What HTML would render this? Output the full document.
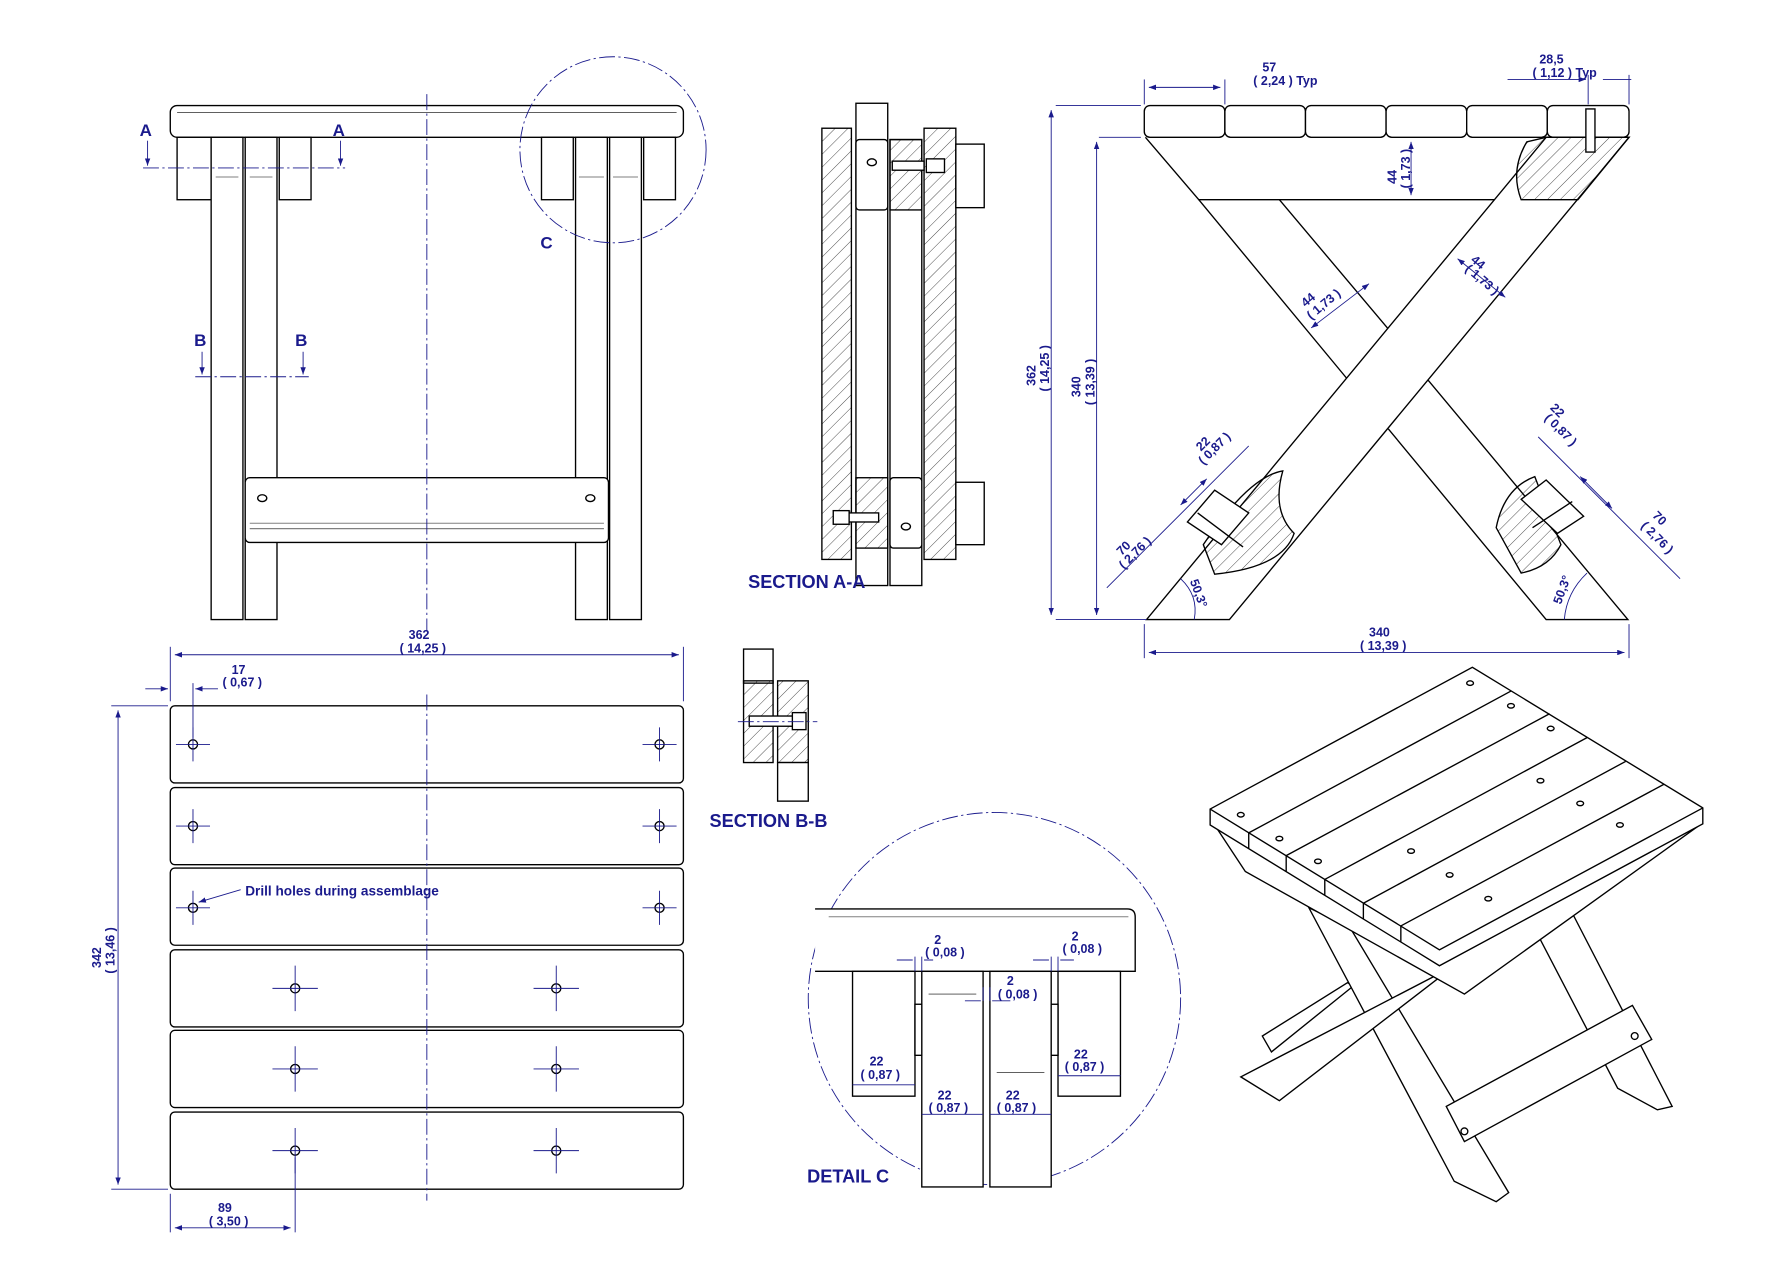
<!DOCTYPE html>
<html><head><meta charset="utf-8"><style>
html,body{margin:0;padding:0;background:#fff}
svg{display:block}
text{font-family:"Liberation Sans",sans-serif;font-weight:bold;fill:#1a1a8c}
.d{stroke:#1a1a8c;stroke-width:0.8;fill:none}
.l{stroke:#000;stroke-width:1.2;fill:#fff}
.n{stroke:#000;stroke-width:1.2;fill:none}
.t{stroke:#000;stroke-width:0.5;fill:none}
.c{stroke:#1a1a8c;stroke-width:0.8;fill:none;stroke-dasharray:14 3 2 3}
.h{stroke:#000;stroke-width:1.2;fill:url(#hat)}
</style></head><body>
<svg width="1780" height="1280" viewBox="0 0 1568 1128" preserveAspectRatio="none" xmlns="http://www.w3.org/2000/svg">
<defs>
<pattern id="hat" width="8" height="8" patternUnits="userSpaceOnUse" patternTransform="rotate(45)">
<line x1="0" y1="0" x2="0" y2="8" stroke="#000" stroke-width="0.6"/></pattern>
<marker id="a" markerWidth="8" markerHeight="6" refX="8" refY="3" orient="auto"><path d="M0,0L8,3L0,6z" fill="#1a1a8c"/></marker>
<marker id="b" markerWidth="8" markerHeight="6" refX="0" refY="3" orient="auto"><path d="M8,0L0,3L8,6z" fill="#1a1a8c"/></marker>
</defs>

<!-- FRONT VIEW -->
<rect class="l" x="150" y="93" width="452" height="28" rx="6"/>
<line class="t" x1="156" y1="99" x2="596" y2="99"/>
<g class="l">
<rect x="156" y="121" width="30" height="55"/><rect x="246" y="121" width="28" height="55"/>
<rect x="186" y="121" width="28" height="425"/><rect x="216" y="121" width="28" height="425"/>
<rect x="477" y="121" width="28" height="55"/><rect x="567" y="121" width="28" height="55"/>
<rect x="507" y="121" width="28" height="425"/><rect x="537" y="121" width="28" height="425"/>
<rect x="216" y="421" width="320" height="57" rx="4"/>
</g>
<line class="t" x1="220" y1="461" x2="532" y2="461"/><line class="t" x1="220" y1="466" x2="532" y2="466"/>
<ellipse class="n" cx="231" cy="439" rx="4" ry="3"/><ellipse class="n" cx="520" cy="439" rx="4" ry="3"/>
<line class="t" x1="190" y1="156" x2="210" y2="156"/><line class="t" x1="220" y1="156" x2="240" y2="156"/>
<line class="t" x1="510" y1="156" x2="532" y2="156"/><line class="t" x1="540" y1="156" x2="562" y2="156"/>
<line class="c" x1="376" y1="83" x2="376" y2="556"/>
<circle class="c" cx="540" cy="132" r="82" stroke-dasharray="10 3 2 3"/>
<text x="476" y="219" font-size="15">C</text>
<line class="c" x1="126" y1="148" x2="304" y2="148"/>
<line class="d" x1="130" y1="124" x2="130" y2="146" marker-end="url(#a)"/><line class="d" x1="300" y1="124" x2="300" y2="146" marker-end="url(#a)"/>
<text x="123" y="120" font-size="15">A</text><text x="293" y="120" font-size="15">A</text>
<line class="c" x1="172" y1="332" x2="272" y2="332"/>
<line class="d" x1="178" y1="310" x2="178" y2="330" marker-end="url(#a)"/><line class="d" x1="267" y1="310" x2="267" y2="330" marker-end="url(#a)"/>
<text x="171" y="305" font-size="15">B</text><text x="260" y="305" font-size="15">B</text>

<!-- SECTION A-A -->
<rect class="h" x="724" y="113" width="26" height="380"/>
<rect class="l" x="754" y="91" width="28" height="425"/>
<rect class="l" x="784" y="123" width="28" height="393"/>
<rect class="h" x="814" y="113" width="28" height="380"/>
<rect class="l" x="842" y="127" width="25" height="56"/><rect class="l" x="842" y="425" width="25" height="55"/>
<rect class="l" x="754" y="123" width="28" height="62" rx="3"/><rect class="h" x="784" y="123" width="28" height="62"/>
<rect class="h" x="754" y="421" width="28" height="62"/><rect class="l" x="784" y="421" width="28" height="62" rx="3"/>
<rect class="l" x="786" y="142" width="28" height="8"/><rect class="l" x="816" y="140" width="16" height="12"/>
<rect class="l" x="744" y="452" width="30" height="8"/><rect class="l" x="734" y="450" width="14" height="12"/>
<ellipse class="n" cx="768" cy="143" rx="4" ry="3"/><ellipse class="n" cx="798" cy="464" rx="4" ry="3"/>
<text x="659" y="518" font-size="16">SECTION A-A</text>

<!-- SECTION B-B -->
<rect class="l" x="655" y="572" width="26" height="30"/>
<rect class="h" x="655" y="600" width="26" height="72"/>
<rect class="h" x="685" y="600" width="27" height="72"/>
<rect class="l" x="685" y="672" width="27" height="34"/>
<rect class="l" x="660" y="631" width="45" height="9"/><rect class="l" x="698" y="628" width="12" height="15"/>
<line class="c" x1="650" y1="636" x2="720" y2="636"/>
<text x="625" y="729" font-size="16">SECTION B-B</text>

<!-- SIDE VIEW -->
<g class="l">
<rect x="1008" y="93" width="71" height="28" rx="5"/><rect x="1079" y="93" width="71" height="28" rx="5"/>
<rect x="1150" y="93" width="71" height="28" rx="5"/><rect x="1221" y="93" width="71" height="28" rx="5"/>
<rect x="1292" y="93" width="71" height="28" rx="5"/><rect x="1363" y="93" width="72" height="28" rx="5"/>
</g>
<path class="n" d="M1009,121 L1056,176 L1389,176"/>
<path class="n" d="M1056,176 L1186,333 M1258,335 L1434,546 L1362,546 L1223,378 M1223,290 L1127,176"/>
<path class="l" d="M1435,121 L1083,546 L1010,546 L1362,121 Z"/>
<path class="h" d="M1362,121 L1435,121 L1390,176 L1340,176 Q1330,150 1345,125 Z"/>
<rect class="l" x="1397" y="96" width="8" height="38"/>
<path class="h" d="M1060,480 Q1100,420 1130,415 Q1120,450 1140,470 Q1130,500 1070,506 Z"/>
<path class="l" d="M1046,460 L1070,432 L1100,452 L1076,480 Z"/><line class="n" x1="1055" y1="452" x2="1095" y2="482"/>
<path class="h" d="M1318,465 Q1325,430 1352,420 L1375,480 Q1365,500 1340,505 Z"/>
<path class="l" d="M1340,440 L1362,423 L1395,455 L1372,470 Z"/><line class="n" x1="1350" y1="465" x2="1385" y2="442"/>
<!-- side dims -->
<line class="d" x1="930" y1="93" x2="1005" y2="93"/><line class="d" x1="930" y1="546" x2="1010" y2="546"/>
<line class="d" x1="926" y1="97" x2="926" y2="542" marker-start="url(#b)" marker-end="url(#a)"/>
<line class="d" x1="968" y1="121" x2="1005" y2="121"/>
<line class="d" x1="966" y1="125" x2="966" y2="542" marker-start="url(#b)" marker-end="url(#a)"/>
<text font-size="11" transform="translate(912,340) rotate(-90)">362</text>
<text font-size="11" transform="translate(924,345) rotate(-90)">( 14,25 )</text>
<text font-size="11" transform="translate(952,350) rotate(-90)">340</text>
<text font-size="11" transform="translate(964,357) rotate(-90)">( 13,39 )</text>
<line class="d" x1="1008" y1="550" x2="1008" y2="580"/><line class="d" x1="1435" y1="550" x2="1435" y2="580"/>
<line class="d" x1="1012" y1="575" x2="1431" y2="575" marker-start="url(#b)" marker-end="url(#a)"/>
<text x="1206" y="561" font-size="11">340</text><text x="1198" y="573" font-size="11">( 13,39 )</text>
<line class="d" x1="1008" y1="70" x2="1008" y2="92"/><line class="d" x1="1079" y1="70" x2="1079" y2="92"/>
<line class="d" x1="1012" y1="77" x2="1075" y2="77" marker-start="url(#b)" marker-end="url(#a)"/>
<text x="1112" y="63" font-size="11">57</text><text x="1104" y="75" font-size="11">( 2,24 )  Typ</text>
<line class="d" x1="1399" y1="66" x2="1399" y2="92"/><line class="d" x1="1435" y1="66" x2="1435" y2="92"/>
<line class="d" x1="1328" y1="70" x2="1397" y2="70" marker-end="url(#a)"/><line class="d" x1="1437" y1="70" x2="1412" y2="70"/>
<text x="1356" y="56" font-size="11">28,5</text><text x="1350" y="68" font-size="11">( 1,12 )  Typ</text>
<line class="d" x1="1243" y1="125" x2="1243" y2="172" marker-start="url(#b)" marker-end="url(#a)"/>
<text font-size="11" transform="translate(1230,162) rotate(-90)">44</text>
<text font-size="11" transform="translate(1242,166) rotate(-90)">( 1,73 )</text>
<line class="d" x1="1155" y1="289" x2="1206" y2="250" marker-start="url(#b)" marker-end="url(#a)"/>
<text font-size="11" transform="translate(1150,271) rotate(-40)">44</text>
<text font-size="11" transform="translate(1155,282) rotate(-40)">( 1,73 )</text>
<line class="d" x1="1284" y1="228" x2="1326" y2="262" marker-start="url(#b)" marker-end="url(#a)"/>
<text font-size="11" transform="translate(1295,230) rotate(40)">44</text>
<text font-size="11" transform="translate(1290,238) rotate(40)">( 1,73 )</text>
<line class="d" x1="975" y1="518" x2="1100" y2="393"/>
<line class="d" x1="1040" y1="445" x2="1063" y2="422" marker-start="url(#b)" marker-end="url(#a)"/>
<text font-size="11" transform="translate(1058,398) rotate(-45)">22</text>
<text font-size="11" transform="translate(1060,410) rotate(-45)">( 0,87 )</text>
<text font-size="11" transform="translate(988,490) rotate(-45)">70</text>
<text font-size="11" transform="translate(990,502) rotate(-45)">( 2,76 )</text>
<line class="d" x1="1480" y1="510" x2="1355" y2="385"/>
<line class="d" x1="1392" y1="420" x2="1420" y2="448" marker-start="url(#b)" marker-end="url(#a)"/>
<text font-size="11" transform="translate(1365,360) rotate(45)">22</text>
<text font-size="11" transform="translate(1360,369) rotate(45)">( 0,87 )</text>
<text font-size="11" transform="translate(1455,455) rotate(45)">70</text>
<text font-size="11" transform="translate(1445,464) rotate(45)">( 2,76 )</text>
<path class="d" d="M1040,510 Q1056,525 1052,546"/><text font-size="11" transform="translate(1048,512) rotate(70)">50,3°</text>
<path class="d" d="M1398,505 Q1380,522 1378,546"/><text font-size="11" transform="translate(1375,533) rotate(-70)">50,3°</text>

<!-- PLAN VIEW -->
<g class="l">
<rect x="150" y="622" width="452" height="68" rx="4"/><rect x="150" y="694" width="452" height="68" rx="4"/>
<rect x="150" y="765" width="452" height="68" rx="4"/><rect x="150" y="837" width="452" height="68" rx="4"/>
<rect x="150" y="908" width="452" height="68" rx="4"/><rect x="150" y="980" width="452" height="68" rx="4"/>
</g>
<line class="c" x1="376" y1="612" x2="376" y2="1058"/>
<g class="n">
<circle cx="170" cy="656" r="4"/><circle cx="581" cy="656" r="4"/>
<circle cx="170" cy="728" r="4"/><circle cx="581" cy="728" r="4"/>
<circle cx="170" cy="800" r="4"/><circle cx="581" cy="800" r="4"/>
<circle cx="260" cy="871" r="4"/><circle cx="490" cy="871" r="4"/>
<circle cx="260" cy="942" r="4"/><circle cx="490" cy="942" r="4"/>
<circle cx="260" cy="1014" r="4"/><circle cx="490" cy="1014" r="4"/>
</g>
<g class="d">
<path d="M155,656h30M170,641v30M566,656h30M581,641v30M155,728h30M170,713v30M566,728h30M581,713v30M155,800h30M170,785v30M566,800h30M581,785v30"/>
<path d="M240,871h40M260,851v40M470,871h40M490,851v40M240,942h40M260,922v40M470,942h40M490,922v40M240,1014h40M260,994v40M470,1014h40M490,994v40"/>
</g>
<line class="d" x1="175" y1="795" x2="212" y2="784" marker-start="url(#b)"/>
<text x="216" y="789" font-size="12">Drill holes during assemblage</text>
<line class="d" x1="150" y1="570" x2="150" y2="618"/><line class="d" x1="602" y1="570" x2="602" y2="618"/>
<line class="d" x1="154" y1="577" x2="598" y2="577" marker-start="url(#b)" marker-end="url(#a)"/>
<text x="360" y="563" font-size="11">362</text><text x="352" y="575" font-size="11">( 14,25 )</text>
<line class="d" x1="170" y1="602" x2="170" y2="650"/>
<line class="d" x1="128" y1="607" x2="148" y2="607" marker-end="url(#a)"/><line class="d" x1="192" y1="607" x2="172" y2="607" marker-end="url(#a)"/>
<text x="204" y="594" font-size="11">17</text><text x="196" y="605" font-size="11">( 0,67 )</text>
<line class="d" x1="98" y1="622" x2="148" y2="622"/><line class="d" x1="98" y1="1048" x2="148" y2="1048"/>
<line class="d" x1="104" y1="626" x2="104" y2="1044" marker-start="url(#b)" marker-end="url(#a)"/>
<text font-size="11" transform="translate(89,853) rotate(-90)">342</text>
<text font-size="11" transform="translate(101,858) rotate(-90)">( 13,46 )</text>
<line class="d" x1="150" y1="1052" x2="150" y2="1086"/><line class="d" x1="260" y1="1020" x2="260" y2="1086"/>
<line class="d" x1="154" y1="1082" x2="256" y2="1082" marker-start="url(#b)" marker-end="url(#a)"/>
<text x="192" y="1068" font-size="11">89</text><text x="184" y="1080" font-size="11">( 3,50 )</text>

<!-- DETAIL C -->
<circle class="c" cx="876" cy="880" r="164" stroke-dasharray="12 3 2 3"/>
<path class="l" d="M718,801 L993,801 Q1000,801 1000,808 L1000,856 L718,856"/>
<line class="t" x1="730" y1="808" x2="994" y2="808"/>
<g class="l">
<rect x="751" y="856" width="55" height="110"/><rect x="932" y="856" width="55" height="110"/>
<rect x="812" y="856" width="54" height="190"/><rect x="872" y="856" width="54" height="190"/>
<rect x="806" y="885" width="6" height="45"/><rect x="926" y="885" width="6" height="45"/>
</g>
<line class="t" x1="818" y1="876" x2="860" y2="876"/><line class="t" x1="878" y1="945" x2="920" y2="945"/>
<g class="d">
<path d="M806,843v13M812,843v13M926,843v13M932,843v13M866,870v12M872,870v12"/>
<path d="M790,846h14M822,846h-8M910,846h14M946,846h-12M850,882h14M890,882h-16"/>
<path d="M751,956h55M932,948h55M812,982h54M872,982h54"/>
</g>
<text x="823" y="832" font-size="11">2</text><text x="815" y="843" font-size="11">( 0,08 )</text>
<text x="944" y="829" font-size="11">2</text><text x="936" y="840" font-size="11">( 0,08 )</text>
<text x="887" y="868" font-size="11">2</text><text x="879" y="880" font-size="11">( 0,08 )</text>
<text x="766" y="939" font-size="11">22</text><text x="758" y="951" font-size="11">( 0,87 )</text>
<text x="946" y="933" font-size="11">22</text><text x="938" y="944" font-size="11">( 0,87 )</text>
<text x="826" y="969" font-size="11">22</text><text x="818" y="980" font-size="11">( 0,87 )</text>
<text x="886" y="969" font-size="11">22</text><text x="878" y="980" font-size="11">( 0,87 )</text>
<text x="711" y="1042" font-size="16">DETAIL C</text>

<!-- ISOMETRIC -->
<path class="l" d="M1347,809 L1379,793 L1473,975 L1460,978 L1425,959 Z"/>
<path class="l" d="M1112,913 L1120,927 L1192,869 L1187,866 Z"/>
<path class="l" d="M1153,800 L1189,817 L1329,1051 L1318,1059 L1281,1041 Z"/>
<path class="l" d="M1093,949 L1127,970 L1297,839 L1268,858 Z"/>
<path class="l" d="M1070,727 L1097,768 L1290,876 L1496,728 L1268,851 Z"/>
<path class="l" d="M1274,975 L1290,1006 L1455,916 L1438,886 Z"/>
<circle class="n" cx="1290" cy="997" r="3"/><circle class="n" cx="1440" cy="913" r="3"/>
<path class="l" d="M1066,713 L1297,588 L1500,712 L1500,726 L1268,851 L1066,727 Z"/>
<path class="n" d="M1066,713 L1268,837 L1500,712"/>
<g class="n">
<line x1="1100" y1="734" x2="1331" y2="609"/><line x1="1133" y1="754" x2="1365" y2="629"/>
<line x1="1167" y1="775" x2="1398" y2="650"/><line x1="1201" y1="796" x2="1432" y2="671"/>
<line x1="1234" y1="816" x2="1466" y2="691"/>
<line x1="1100" y1="734" x2="1100" y2="748"/><line x1="1133" y1="754" x2="1133" y2="768"/>
<line x1="1167" y1="775" x2="1167" y2="789"/><line x1="1201" y1="796" x2="1201" y2="810"/>
<line x1="1234" y1="816" x2="1234" y2="830"/>
</g>
<g class="n">
<ellipse cx="1295" cy="602" rx="3" ry="2"/><ellipse cx="1331" cy="622" rx="3" ry="2"/>
<ellipse cx="1366" cy="642" rx="3" ry="2"/><ellipse cx="1357" cy="688" rx="3" ry="2"/>
<ellipse cx="1392" cy="708" rx="3" ry="2"/><ellipse cx="1427" cy="727" rx="3" ry="2"/>
<ellipse cx="1093" cy="718" rx="3" ry="2"/><ellipse cx="1127" cy="739" rx="3" ry="2"/>
<ellipse cx="1161" cy="759" rx="3" ry="2"/><ellipse cx="1243" cy="750" rx="3" ry="2"/>
<ellipse cx="1277" cy="771" rx="3" ry="2"/><ellipse cx="1311" cy="792" rx="3" ry="2"/>
</g>
</svg>
</body></html>
